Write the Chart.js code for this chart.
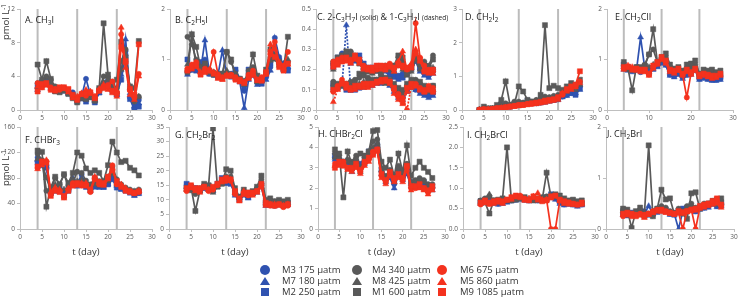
<!DOCTYPE html>
<html>
<head>
<meta charset="utf-8">
<script src="https://cdn.jsdelivr.net/npm/chart.js@4.4.0/dist/chart.umd.min.js"></script>
<style>
	body { margin: 0; background: #fff; }
	#wrap { position: relative; width: 740px; height: 299px; overflow: hidden; font-family: 'Open Sans', sans-serif; color: #222; }
	#wrap canvas { position: absolute; }
	.ttl { position: absolute; font-size: 9px; line-height: 10px; white-space: nowrap; }
	.ttl sub { font-size: 6.5px; vertical-align: baseline; position: relative; top: 2px; }
	.ttl small { font-size: 6.5px; }
	.ylab { position: absolute; width: 50px; height: 12px; font-size: 9.5px; line-height: 12px; text-align: center; transform: rotate(-90deg); white-space: nowrap; color: #333; }
	.ylab sup { font-size: 6.5px; vertical-align: baseline; position: relative; top: -3px; }
	.leg { position: absolute; font-size: 9.5px; line-height: 11px; white-space: nowrap; color: #333; }
	.mk { position: absolute; }
</style>
</head>
<body>
<div id="wrap"></div>
<script>
// sampling days and the three grey marker days
var days = [4, 5, 6, 7, 8, 9, 10, 11, 12, 13, 14, 15, 16, 17, 18, 19, 20, 21, 22, 23, 24, 25, 26, 27];
var markDays = [4, 13, 22];

// series order: M3, M7, M2, M4, M8, M1, M6, M5, M9
var seriesNames = ['M3 175 µatm', 'M7 180 µatm', 'M2 250 µatm', 'M4 340 µatm', 'M8 425 µatm', 'M1 600 µatm', 'M6 675 µatm', 'M5 860 µatm', 'M9 1085 µatm'];
var seriesColors = ['#2f52b0', '#2f52b0', '#2f52b0', '#595959', '#595959', '#595959', '#f4321e', '#f4321e', '#f4321e'];
var seriesShapes = ['circle', 'triangle', 'rect', 'circle', 'triangle', 'rect', 'circle', 'triangle', 'rect'];

// A. CH3I
var ch3i = [
	[2.6,3.2,3.8,3.0,2.5,2.3,2.4,2.0,2.1,1.3,1.6,3.7,1.8,1.2,2.3,3.2,3.5,2.6,2.0,4.8,7.0,1.5,0.2,1.2],
	[2.4,3.0,3.3,2.6,2.2,2.5,2.2,1.9,1.6,1.0,1.3,1.2,1.5,1.1,2.0,2.9,3.0,2.4,1.8,4.2,8.4,2.0,0.5,0.8],
	[2.9,3.3,3.6,2.8,2.3,2.2,2.5,2.1,1.7,1.2,1.4,1.0,1.6,0.9,2.1,3.1,3.3,2.2,1.9,3.6,6.4,1.3,0.0,0.4],
	[3.2,3.4,4.0,3.6,2.8,2.5,2.3,2.2,1.8,1.4,1.8,1.6,1.9,1.4,2.5,4.0,3.9,2.9,2.6,5.8,7.2,2.4,1.0,1.6],
	[2.7,3.1,3.4,3.0,2.4,2.3,2.6,2.0,1.6,1.2,1.5,1.4,1.7,1.2,2.4,3.3,3.6,2.5,2.2,4.8,6.6,2.6,1.4,1.6],
	[5.4,3.6,5.8,3.7,2.2,2.1,2.4,1.9,1.4,0.9,1.4,1.3,1.5,1.1,2.6,10.3,4.2,3.1,3.6,8.1,6.0,2.8,2.6,8.2],
	[3.2,2.7,3.1,2.7,2.5,2.4,2.6,2.3,1.6,1.5,1.9,1.7,2.0,1.5,2.3,2.8,3.0,3.4,2.1,9.0,5.6,2.3,1.5,4.3],
	[2.8,2.6,2.9,2.5,2.4,2.5,2.5,2.1,1.4,1.6,2.0,2.4,2.2,1.6,2.5,3.0,2.4,2.0,1.6,9.8,5.0,1.8,1.2,4.0],
	[2.2,3.1,3.2,2.4,2.3,2.7,2.7,2.5,1.8,1.2,1.9,2.0,2.1,1.4,2.3,2.6,2.8,2.3,2.0,7.5,5.8,2.5,1.8,7.8]
];

// B. C2H5I
var c2h5i = [
	[0.75,0.8,0.85,0.9,1.0,0.72,0.7,0.7,0.72,0.7,0.72,0.78,0.62,0.38,0.72,0.78,0.55,0.55,0.65,0.85,1.43,1.05,0.9,0.82],
	[0.7,0.78,0.8,0.78,1.38,0.75,0.72,0.7,1.18,0.68,0.68,0.72,0.55,0.04,0.6,0.68,0.5,0.58,0.6,0.78,1.25,1.0,0.92,0.85],
	[1.0,0.82,0.78,0.95,0.85,0.72,0.7,0.65,0.7,0.72,0.66,0.8,0.58,0.45,0.8,0.72,0.56,0.52,0.7,0.92,1.1,0.98,0.8,0.78],
	[1.45,1.3,1.0,0.8,0.9,0.8,0.75,0.72,0.7,1.15,0.95,0.72,0.58,0.55,0.78,0.85,0.62,0.6,0.75,1.05,1.1,0.9,0.85,0.95],
	[0.9,1.48,0.85,0.75,0.8,0.78,0.72,0.7,0.65,0.78,0.7,0.68,0.6,0.5,0.65,0.75,0.55,0.62,0.72,0.98,1.0,0.88,0.8,1.0],
	[0.75,1.5,1.25,0.85,0.92,0.75,0.7,0.68,0.72,1.15,1.0,0.65,0.62,0.58,0.7,1.1,0.68,0.6,0.8,1.2,1.05,0.95,0.82,1.45],
	[0.82,0.9,0.95,0.72,0.82,0.78,1.15,0.7,0.65,0.68,0.7,0.65,0.58,0.55,0.7,0.78,0.6,0.65,0.72,1.1,1.35,0.92,0.88,1.15],
	[0.8,0.88,0.85,0.75,0.78,0.8,0.75,0.62,0.6,0.7,0.66,0.62,0.55,0.52,0.62,0.68,0.58,0.6,0.7,1.3,1.2,0.95,0.82,0.9],
	[0.78,0.82,0.9,0.7,0.75,0.78,0.72,0.66,0.62,0.68,0.68,0.6,0.6,0.55,0.65,0.72,0.6,0.58,0.75,1.15,1.05,0.85,0.78,0.92]
];

// C. 2-C3H7I (solid)
var c3h7i_2 = [
	[0.23,0.25,0.28,0.26,0.24,0.25,0.26,0.22,0.2,0.19,0.2,0.21,0.2,0.18,0.17,0.16,0.18,0.2,0.22,0.26,0.2,0.18,0.17,0.19],
	[0.21,0.24,0.27,0.25,0.23,0.24,0.25,0.21,0.19,0.2,0.19,0.2,0.19,0.17,0.16,0.15,0.17,0.19,0.2,0.24,0.19,0.17,0.16,0.18],
	[0.22,0.26,0.26,0.27,0.25,0.26,0.27,0.23,0.21,0.21,0.21,0.2,0.21,0.19,0.18,0.17,0.16,0.18,0.21,0.25,0.21,0.19,0.18,0.2],
	[0.24,0.25,0.26,0.28,0.29,0.27,0.25,0.22,0.2,0.2,0.21,0.19,0.22,0.2,0.21,0.26,0.24,0.19,0.2,0.26,0.22,0.24,0.22,0.27],
	[0.2,0.23,0.25,0.27,0.26,0.25,0.24,0.21,0.19,0.18,0.19,0.18,0.2,0.2,0.19,0.22,0.2,0.17,0.19,0.25,0.2,0.2,0.19,0.21],
	[0.23,0.26,0.27,0.29,0.28,0.26,0.23,0.2,0.19,0.19,0.2,0.18,0.21,0.21,0.22,0.27,0.26,0.18,0.21,0.27,0.23,0.22,0.21,0.25],
	[0.24,0.25,0.26,0.25,0.25,0.26,0.24,0.22,0.21,0.2,0.2,0.21,0.22,0.23,0.2,0.22,0.21,0.2,0.22,0.43,0.26,0.22,0.2,0.19],
	[0.21,0.22,0.25,0.24,0.23,0.25,0.23,0.2,0.2,0.19,0.21,0.2,0.21,0.21,0.19,0.24,0.29,0.2,0.23,0.3,0.24,0.2,0.18,0.18],
	[0.22,0.23,0.24,0.26,0.24,0.27,0.25,0.21,0.2,0.21,0.22,0.22,0.2,0.22,0.21,0.23,0.22,0.21,0.21,0.28,0.25,0.19,0.19,0.2]
];

// C. 1-C3H7I (dashed)
var c3h7i_1 = [
	[0.12,0.12,0.13,0.11,0.1,0.11,0.12,0.12,0.13,0.13,0.14,0.14,0.15,0.13,0.1,0.07,0.06,0.1,0.12,0.1,0.09,0.08,0.07,0.08],
	[0.11,0.12,0.12,0.42,0.1,0.1,0.11,0.11,0.12,0.12,0.13,0.13,0.14,0.12,0.09,0.06,0.05,0.09,0.11,0.1,0.08,0.07,0.06,0.07],
	[0.13,0.11,0.12,0.1,0.1,0.1,0.11,0.12,0.12,0.14,0.14,0.15,0.14,0.13,0.11,0.08,0.07,0.1,0.13,0.11,0.1,0.09,0.08,0.09],
	[0.14,0.12,0.13,0.12,0.14,0.15,0.16,0.18,0.16,0.14,0.15,0.16,0.14,0.14,0.12,0.1,0.09,0.12,0.14,0.15,0.13,0.11,0.1,0.12],
	[0.1,0.11,0.12,0.11,0.11,0.12,0.13,0.14,0.14,0.13,0.14,0.14,0.13,0.13,0.11,0.09,0.08,0.11,0.12,0.13,0.12,0.1,0.09,0.1],
	[0.12,0.13,0.12,0.13,0.12,0.14,0.18,0.17,0.15,0.15,0.15,0.15,0.16,0.15,0.13,0.11,0.1,0.13,0.15,0.14,0.14,0.12,0.11,0.12],
	[0.09,0.12,0.15,0.13,0.11,0.11,0.12,0.12,0.12,0.13,0.14,0.15,0.15,0.14,0.1,0.08,0.06,0.0,0.12,0.13,0.11,0.1,0.12,0.11],
	[0.04,0.1,0.14,0.12,0.1,0.1,0.11,0.11,0.11,0.12,0.13,0.14,0.14,0.13,0.08,0.05,0.03,0.09,0.11,0.12,0.1,0.09,0.1,0.1],
	[0.1,0.11,0.13,0.11,0.1,0.12,0.12,0.13,0.13,0.13,0.14,0.14,0.15,0.14,0.11,0.07,0.04,0.11,0.13,0.12,0.1,0.09,0.1,0.09]
];

// D. CH2I2
var ch2i2 = [
	[0,0.02,0.02,0.03,0.08,0.12,0.15,0.1,0.22,0.15,0.18,0.25,0.2,0.2,0.22,0.25,0.28,0.3,0.32,0.4,0.45,0.5,0.55,0.7],
	[0,0.01,0.02,0.02,0.06,0.2,0.1,0.12,0.12,0.14,0.16,0.2,0.18,0.18,0.2,0.22,0.25,0.28,0.3,0.38,0.42,0.48,0.5,0.6],
	[0,0.02,0.03,0.03,0.05,0.1,0.12,0.1,0.15,0.15,0.2,0.28,0.22,0.22,0.24,0.28,0.3,0.3,0.35,0.42,0.48,0.55,0.45,0.65],
	[0.02,0.05,0.03,0.05,0.1,0.15,0.2,0.15,0.25,0.25,0.22,0.28,0.25,0.3,0.35,0.4,0.38,0.42,0.45,0.55,0.6,0.7,0.65,0.8],
	[0,0.04,0.03,0.04,0.08,0.12,0.15,0.12,0.2,0.2,0.2,0.25,0.22,0.28,0.3,0.35,0.35,0.38,0.4,0.5,0.55,0.62,0.6,0.75],
	[0,0.1,0.05,0.05,0.15,0.3,0.85,0.15,0.18,0.7,0.55,0.3,0.25,0.22,0.45,2.52,0.65,0.72,0.65,0.6,0.7,0.8,0.75,0.9],
	[0,0.02,0.02,0.03,0.05,0.05,0.08,0.1,0.12,0.15,0.15,0.18,0.18,0.2,0.22,0.25,0.28,0.3,0.35,0.45,0.6,0.65,0.7,0.85],
	[0,0.01,0.02,0.02,0.04,0.06,0.07,0.09,0.1,0.12,0.14,0.16,0.17,0.18,0.2,0.22,0.25,0.28,0.3,0.5,0.55,0.6,0.68,0.8],
	[0,0.02,0.01,0.03,0.05,0.06,0.08,0.1,0.12,0.14,0.15,0.17,0.2,0.22,0.24,0.28,0.3,0.32,0.38,0.48,0.62,0.7,0.75,1.15]
];

// E. CH2ClI
var ch2cli = [
	[0.85,0.82,0.78,0.8,0.75,0.8,0.72,0.85,0.9,0.95,0.9,0.7,0.68,0.72,0.65,0.7,0.72,0.8,0.62,0.65,0.62,0.6,0.6,0.62],
	[0.8,0.78,0.75,0.78,1.44,0.82,0.75,0.8,0.85,0.92,0.88,0.68,0.65,0.7,0.62,0.68,0.7,0.78,0.6,0.62,0.6,0.58,0.58,0.6],
	[0.9,0.85,0.8,0.82,0.78,0.85,0.78,0.82,0.88,1.0,0.92,0.72,0.7,0.75,0.68,0.72,0.75,0.82,0.65,0.68,0.65,0.62,0.62,0.65],
	[0.88,0.85,0.8,0.85,0.82,0.9,1.1,1.2,0.95,1.02,1.05,0.85,0.78,0.8,0.72,0.82,0.85,0.9,0.7,0.72,0.75,0.72,0.7,0.72],
	[0.85,0.8,0.78,0.82,0.8,0.85,0.85,0.9,0.92,0.98,1.0,0.8,0.75,0.78,0.7,0.78,0.8,0.85,0.68,0.7,0.7,0.68,0.68,0.7],
	[0.95,0.82,0.39,0.85,0.85,0.88,1.1,1.6,0.95,1.05,1.12,0.9,0.82,0.85,0.78,0.9,0.92,0.98,0.72,0.8,0.78,0.8,0.75,0.78],
	[0.82,0.85,0.82,0.8,0.78,0.78,0.7,0.85,0.92,1.02,0.95,0.78,0.75,0.8,0.7,0.25,0.72,0.8,0.68,0.7,0.68,0.65,0.66,0.7],
	[0.8,0.88,0.85,0.78,0.75,0.75,0.68,0.82,0.9,1.0,0.92,0.75,0.72,0.78,0.68,0.75,0.7,0.78,0.65,0.68,0.65,0.62,0.64,0.68],
	[0.85,0.86,0.8,0.82,0.8,0.8,0.72,0.88,0.95,1.05,0.98,0.8,0.78,0.82,0.72,0.8,0.75,0.82,0.7,0.72,0.7,0.68,0.68,0.72]
];

// F. CHBr3
var chbr3 = [
	[112,105,100,55,62,60,55,65,75,72,85,70,62,72,68,68,72,80,72,65,62,58,55,57],
	[108,102,98,58,60,58,57,62,80,70,78,68,65,65,70,65,70,85,68,62,60,58,52,55],
	[104,100,96,56,60,62,52,60,70,68,72,66,60,70,66,66,70,78,65,63,60,57,54,58],
	[118,108,60,62,80,70,85,68,72,90,88,76,70,80,75,72,82,98,78,70,65,62,60,62],
	[110,104,80,60,70,64,62,65,78,75,78,70,64,70,68,70,75,88,70,68,62,60,57,60],
	[123,121,35,65,82,70,86,72,88,120,115,95,88,92,88,75,100,137,120,105,107,96,92,84],
	[96,104,106,55,62,60,50,62,72,70,68,70,58,78,70,70,80,100,70,68,62,60,56,58],
	[94,100,108,58,65,62,48,64,70,68,72,72,60,82,72,68,78,95,72,70,64,58,55,60],
	[98,106,104,52,60,58,52,60,68,72,70,68,62,80,74,72,82,92,75,66,60,58,57,59]
];

// G. CH2Br2
var ch2br2 = [
	[15,14,14,13,14,14,13,15,16,16,16,12,10,12,11,12,13,15,8.5,8.2,8,8.5,8,8.5],
	[14.5,14,13.5,13,14,13.5,13,14.5,16,15.5,16,11.5,10,11.5,10.5,12,12.5,14.5,8,8,7.8,8.2,7.8,8.2],
	[15.5,14.5,14,13.5,14.5,14.8,14,15.5,17.5,16,15.5,12.5,11,12.5,11,12.5,13.5,15.5,9,8.5,8.5,9,8.5,9],
	[14,13.5,12,14,15,14,13,15,16,18,18,13,11,13,12,12.5,14,17,9,10,9.5,9.5,9,9.5],
	[13.5,13,12.5,13,14.5,13.5,12.5,14.5,15.5,17,17,12.5,10.5,12.5,11.5,12,13.5,16,8.5,9.5,9,9,8.5,9],
	[14,14.5,6.2,13,15.5,15,34.5,14.5,15.5,20.5,20,14,11,13.5,12.5,13,14.5,18.3,10,10.5,9.5,10,9.5,10],
	[13,14.5,13.5,13,14.5,13,13.5,15,16.5,16.5,16.5,12,10.5,12.5,11.5,12,13,15,8.5,8,8,8.5,7.5,8],
	[13.5,14,13,12.5,14,13.5,14,15,16,17,17,12.5,9.5,13,12,11.5,12.5,14.5,8,8.5,8.5,8,8,8.5],
	[14,15,14,14,14.5,13.5,14.5,15.5,17,17.5,17,13,10,12,12.5,12.5,13,15.5,9,8.5,8,8.5,8,8.5]
];

// H. CHBr2Cl
var chbr2cl = [
	[3.5,3.3,3.2,3.1,2.9,3.2,3.1,3.3,3.6,3.8,4.0,2.8,2.4,2.6,2.2,2.8,2.5,2.8,2.2,2.2,2.3,2.2,2.0,2.0],
	[3.4,3.2,3.2,3.0,2.8,3.1,3.0,3.2,3.5,3.7,3.9,2.7,2.3,2.5,2.0,2.7,2.4,2.7,2.1,2.1,2.2,2.1,1.9,1.9],
	[3.6,3.4,3.3,3.2,3.0,3.3,3.2,3.4,3.8,3.9,4.1,2.9,2.5,2.7,2.3,2.9,2.6,2.9,2.3,2.3,2.4,2.3,2.1,2.1],
	[3.7,3.6,3.3,3.4,3.3,3.6,3.0,3.5,3.8,4.3,4.4,3.0,2.6,2.9,2.4,3.1,2.7,3.2,2.3,2.4,2.5,2.4,2.2,2.2],
	[3.5,3.5,3.2,3.3,3.1,3.4,2.8,3.4,3.7,4.0,4.2,2.9,2.5,2.8,2.3,3.0,2.6,3.0,2.2,2.3,2.4,2.3,2.1,2.1],
	[3.9,3.7,1.55,3.8,3.2,3.4,3.7,3.6,3.8,4.8,4.85,3.3,3.0,3.4,2.6,3.7,2.8,4.1,2.6,3.0,3.3,3.0,2.8,2.5],
	[3.2,3.2,3.3,3.0,2.9,3.1,2.8,3.2,3.4,3.8,3.9,2.6,2.3,2.7,2.4,2.6,2.4,3.0,2.0,2.0,2.1,2.0,1.8,2.0],
	[3.1,3.1,3.2,2.9,2.8,3.0,2.7,3.1,3.3,3.6,3.8,2.5,2.2,2.6,2.3,2.5,2.3,2.9,1.9,2.0,2.0,1.9,1.7,1.9],
	[3.0,3.3,3.1,3.0,3.0,3.2,2.9,3.3,3.5,3.7,3.9,2.7,2.4,2.8,2.5,2.7,2.5,3.1,2.1,2.1,2.2,2.0,1.9,2.1]
];

// I. CH2BrCl
var ch2brcl = [
	[0.65,0.7,0.72,0.65,0.62,0.65,0.68,0.7,0.72,0.75,0.72,0.7,0.72,0.7,0.72,0.75,0.8,0.75,0.65,0.6,0.62,0.6,0.58,0.6],
	[0.62,0.68,0.75,0.62,0.6,0.62,0.65,0.68,0.7,0.72,0.7,0.68,0.7,0.68,0.7,0.72,0.78,0.72,0.62,0.58,0.6,0.58,0.55,0.58],
	[0.68,0.72,0.7,0.68,0.65,0.68,0.7,0.72,0.75,0.78,0.75,0.72,0.74,0.72,0.75,0.78,0.85,0.78,0.68,0.62,0.65,0.62,0.6,0.62],
	[0.7,0.75,0.8,0.7,0.68,0.7,0.7,0.75,0.75,0.78,0.75,0.72,0.75,0.72,0.78,0.8,0.82,0.8,0.72,0.65,0.68,0.65,0.62,0.65],
	[0.65,0.72,0.85,0.68,0.65,0.68,0.68,0.72,0.72,0.76,0.72,0.7,0.72,0.7,0.75,0.75,0.8,0.78,0.7,0.62,0.65,0.62,0.6,0.62],
	[0.68,0.65,0.38,0.7,0.72,0.75,2.0,0.7,0.72,0.75,0.78,0.72,0.7,0.75,0.72,1.38,0.78,0.85,0.82,0.75,0.7,0.72,0.68,0.7],
	[0.6,0.65,0.62,0.65,0.68,0.65,0.72,0.75,0.8,0.82,0.75,0.72,0.78,0.75,0.7,0.72,0.0,0.0,0.7,0.65,0.65,0.62,0.6,0.62],
	[0.62,0.68,0.6,0.62,0.65,0.62,0.7,0.72,0.78,0.8,0.7,0.75,0.8,0.88,0.72,0.72,0.75,0.8,0.68,0.62,0.6,0.6,0.58,0.6],
	[0.65,0.7,0.65,0.68,0.7,0.68,0.72,0.78,0.82,0.78,0.72,0.7,0.8,0.72,0.68,0.7,0.8,0.82,0.72,0.68,0.65,0.62,0.6,0.65]
];

// J. CH2BrI
var ch2bri = [
	[0.3,0.28,0.3,0.28,0.3,0.35,0.3,0.32,0.35,0.38,0.35,0.3,0.3,0.35,0.38,0.4,0.42,0.35,0.4,0.42,0.45,0.5,0.45,0.48],
	[0.28,0.25,0.28,0.3,0.35,0.3,0.45,0.3,0.32,0.35,0.33,0.28,0.3,0.0,0.35,0.38,0.4,0.33,0.38,0.4,0.42,0.48,0.43,0.45],
	[0.32,0.3,0.32,0.3,0.32,0.32,0.28,0.3,0.36,0.4,0.38,0.32,0.28,0.36,0.4,0.42,0.4,0.37,0.42,0.45,0.48,0.52,0.48,0.5],
	[0.38,0.35,0.3,0.32,0.38,0.3,0.3,0.35,0.4,0.45,0.42,0.35,0.32,0.4,0.35,0.45,0.5,0.42,0.45,0.5,0.5,0.55,0.5,0.55],
	[0.35,0.32,0.28,0.3,0.35,0.25,0.28,0.33,0.38,0.4,0.38,0.33,0.3,0.36,0.32,0.42,0.45,0.38,0.42,0.46,0.48,0.52,0.48,0.52],
	[0.4,0.38,0.02,0.35,0.42,0.3,1.64,0.25,0.4,0.77,0.58,0.6,0.3,0.35,0.3,0.2,0.7,0.72,0.4,0.45,0.5,0.55,0.58,0.6],
	[0.25,0.28,0.25,0.28,0.3,0.28,0.3,0.35,0.38,0.36,0.35,0.32,0.3,0.32,0.0,0.35,0.38,0.0,0.42,0.45,0.48,0.5,0.55,0.45],
	[0.28,0.3,0.28,0.26,0.28,0.22,0.28,0.32,0.35,0.34,0.32,0.3,0.28,0.32,0.3,0.33,0.35,0.36,0.4,0.42,0.45,0.48,0.5,0.42],
	[0.3,0.32,0.3,0.25,0.28,0.25,0.3,0.33,0.36,0.38,0.34,0.32,0.3,0.35,0.33,0.35,0.38,0.4,0.45,0.48,0.5,0.55,0.6,0.48]
];

// panel layout: plot box in page pixels
var panels = [
	{sets: [ch3i], title: 'A. CH<sub>3</sub>I', l: 20, t: 9, r: 152, b: 110, ymax: 12, ystep: 4, dec: 0, xstep: 5, tx: 25, ty: 15},
	{sets: [c2h5i], title: 'B. C<sub>2</sub>H<sub>5</sub>I', l: 170, t: 9, r: 301, b: 110, ymax: 2, ystep: 1, dec: 0, xstep: 5, tx: 175, ty: 15},
	{sets: [c3h7i_2, c3h7i_1], title: 'C. 2-C<sub>3</sub>H<sub>7</sub>I <small>(solid)</small> &amp; 1-C<sub>3</sub>H<sub>7</sub>I <small>(dashed)</small>', l: 316, t: 9, r: 446, b: 110, ymax: 0.5, ystep: 0.1, dec: 1, xstep: 5, tx: 317, ty: 12},
	{sets: [ch2i2], title: 'D. CH<sub>2</sub>I<sub>2</sub>', l: 462, t: 9, r: 593, b: 110, ymax: 3, ystep: 1, dec: 0, xstep: 5, tx: 465, ty: 12},
	{sets: [ch2cli], title: 'E. CH<sub>2</sub>ClI', l: 607, t: 9, r: 733, b: 110, ymax: 2, ystep: 1, dec: 0, xstep: 10, tx: 615, ty: 12},
	{sets: [chbr3], title: 'F. CHBr<sub>3</sub>', l: 20, t: 127, r: 152, b: 229, ymax: 160, ystep: 40, dec: 0, xstep: 5, tx: 25, ty: 135},
	{sets: [ch2br2], title: 'G. CH<sub>2</sub>Br<sub>2</sub>', l: 169, t: 127, r: 301, b: 229, ymax: 35, ystep: 5, dec: 0, xstep: 5, tx: 175, ty: 130},
	{sets: [chbr2cl], title: 'H. CHBr<sub>2</sub>Cl', l: 318, t: 127, r: 445, b: 229, ymax: 5, ystep: 1, dec: 0, xstep: 5, tx: 318, ty: 129},
	{sets: [ch2brcl], title: 'I. CH<sub>2</sub>BrCl', l: 463, t: 127, r: 595, b: 229, ymax: 2.5, ystep: 0.5, dec: 1, xstep: 5, tx: 467, ty: 130},
	{sets: [ch2bri], title: 'J. CH<sub>2</sub>BrI', l: 606, t: 127, r: 734, b: 229, ymax: 2, ystep: 1, dec: 0, xstep: 5, tx: 607, ty: 129}
];

var wrap = document.getElementById('wrap');

var dayLines = {
	id: 'dayLines',
	beforeDatasetsDraw: function(chart) {
		var ctx = chart.ctx, a = chart.chartArea, sx = chart.scales.x;
		ctx.save();
		ctx.strokeStyle = '#bcbcbc';
		ctx.lineWidth = 2;
		markDays.forEach(function(d) {
			var px = sx.getPixelForValue(d);
			ctx.beginPath();
			ctx.moveTo(px, a.top);
			ctx.lineTo(px, a.bottom);
			ctx.stroke();
		});
		ctx.restore();
	}
};

function makeDatasets(rows, dashed) {
	return rows.map(function(vals, i) {
		var shape = seriesShapes[i];
		return {
			data: vals.map(function(v, k) { return {x: days[k], y: v}; }),
			borderColor: seriesColors[i],
			backgroundColor: seriesColors[i],
			pointStyle: shape,
			pointRadius: shape == 'circle' ? 2.6 : (shape == 'rect' ? 3.6 : 3.4),
			pointBorderWidth: 0.5,
			borderWidth: 1.7,
			borderDash: dashed ? [2, 1.5] : [],
			order: 8 - i
		};
	});
}

function renderChart(p, idx) {
	var bottomRow = idx >= 5;
	var axisH = bottomRow ? 29 : 14;
	var cv = document.createElement('canvas');
	cv.width = (p.r - p.l) + 22 + 8;
	cv.height = (p.b - p.t) + 6 + axisH;
	cv.style.left = (p.l - 22) + 'px';
	cv.style.top = (p.t - 6) + 'px';
	wrap.appendChild(cv);

	var datasets = makeDatasets(p.sets[0], false);
	if (p.sets[1]) datasets = datasets.concat(makeDatasets(p.sets[1], true));

	var tickFont = {family: "'Open Sans', sans-serif", size: 6.5};
	new Chart(cv.getContext('2d'), {
		type: 'line',
		data: {datasets: datasets},
		plugins: [dayLines],
		options: {
			responsive: false,
			animation: false,
			devicePixelRatio: 1,
			layout: {padding: {top: 6, right: 8, left: 0, bottom: 0}},
			plugins: {legend: {display: false}, tooltip: {enabled: false}},
			scales: {
				x: {
					type: 'linear', min: 0, max: 30,
					afterFit: function(s) { s.height = axisH; },
					ticks: {stepSize: p.xstep, color: '#595959', font: tickFont, padding: 1, maxRotation: 0, autoSkip: false},
					grid: {drawOnChartArea: false, tickLength: 3, color: '#bfbfbf'},
					border: {color: '#bfbfbf'},
					title: {display: bottomRow, text: 't (day)', color: '#333', font: {family: "'Open Sans', sans-serif", size: 9.5}, padding: {top: 1, bottom: 0}}
				},
				y: {
					min: 0, max: p.ymax,
					afterFit: function(s) { s.width = 22; },
					ticks: {stepSize: p.ystep, color: '#595959', font: tickFont, padding: 2, callback: function(v) { return v.toFixed(p.dec); }},
					grid: {drawOnChartArea: false, tickLength: 3, color: '#bfbfbf'},
					border: {color: '#bfbfbf'}
				}
			}
		}
	});

	var t = document.createElement('div');
	t.className = 'ttl';
	t.style.left = p.tx + 'px';
	t.style.top = p.ty + 'px';
	t.innerHTML = p.title;
	wrap.appendChild(t);
}

panels.forEach(renderChart);

// y axis labels
[22, 168].forEach(function(cy) {
	var d = document.createElement('div');
	d.className = 'ylab';
	d.style.left = (6 - 25) + 'px';
	d.style.top = (cy - 6) + 'px';
	d.innerHTML = 'pmol L<sup>-1</sup>';
	wrap.appendChild(d);
});

// legend, three columns of three
var legMarkX = [265, 357, 442];
var legTextX = [282, 372, 460];
var legRowY = [270, 281, 292];
seriesNames.forEach(function(name, i) {
	var col = Math.floor(i / 3), row = i % 3;
	var cx = legMarkX[col], cy = legRowY[row], c = seriesColors[i];
	var m = document.createElement('div');
	m.className = 'mk';
	if (seriesShapes[i] == 'circle') {
		m.style.cssText = 'left:' + (cx - 5) + 'px;top:' + (cy - 5) + 'px;width:10px;height:10px;border-radius:50%;background:' + c;
	} else if (seriesShapes[i] == 'triangle') {
		m.style.cssText = 'left:' + (cx - 5) + 'px;top:' + (cy - 4) + 'px;width:0;height:0;border-left:5px solid transparent;border-right:5px solid transparent;border-bottom:8px solid ' + c;
	} else {
		m.style.cssText = 'left:' + (cx - 4) + 'px;top:' + (cy - 4) + 'px;width:8px;height:8px;background:' + c;
	}
	wrap.appendChild(m);
	var tx = document.createElement('div');
	tx.className = 'leg';
	tx.style.left = legTextX[col] + 'px';
	tx.style.top = (cy - 6) + 'px';
	tx.textContent = name;
	wrap.appendChild(tx);
});
</script>
</body>
</html>
